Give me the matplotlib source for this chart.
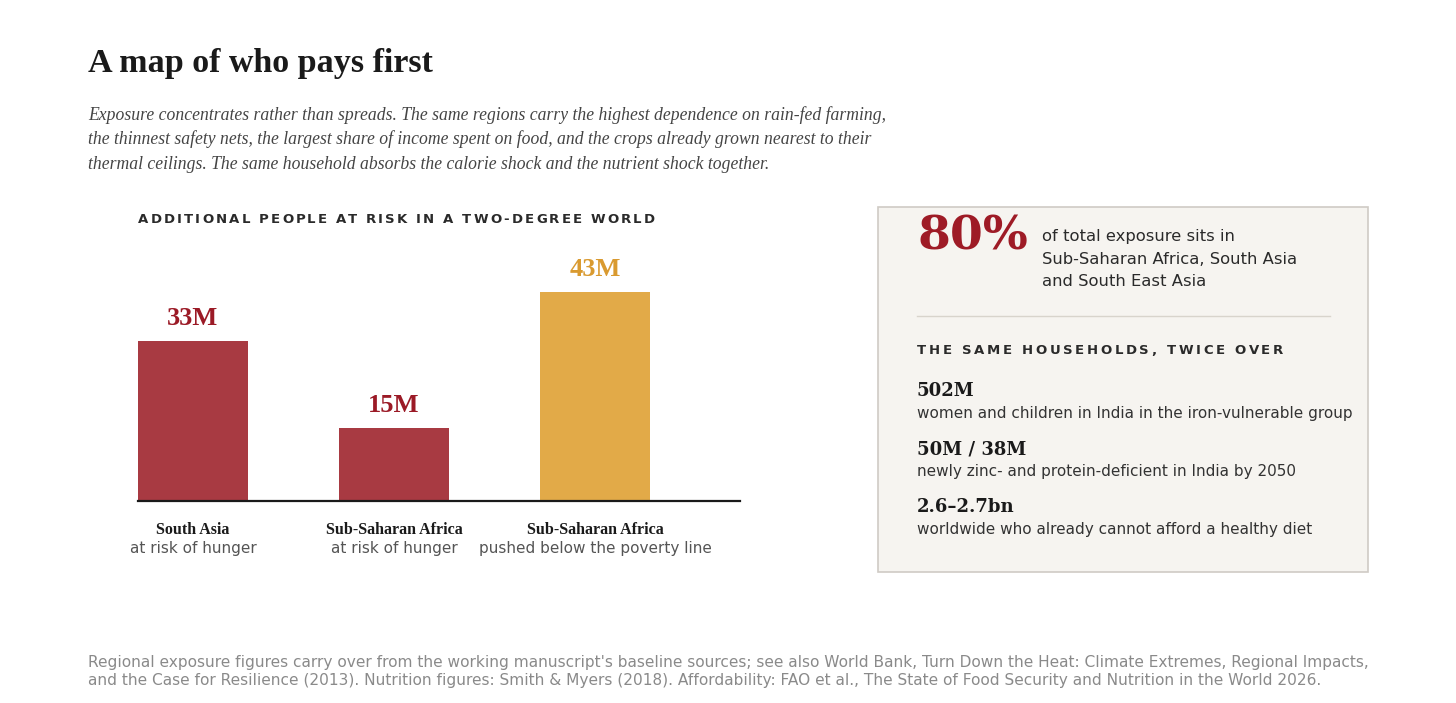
import matplotlib
matplotlib.use("Agg")
import matplotlib.pyplot as plt
from matplotlib.patches import Rectangle
from matplotlib.lines import Line2D

W, H = 1456, 703

# --- data ---
categories = ["South Asia", "Sub-Saharan Africa", "Sub-Saharan Africa"]
sublabels = ["at risk of hunger", "at risk of hunger", "pushed below the poverty line"]
values = [33, 15, 43]
value_labels = ["33M", "15M", "43M"]
bar_colors = ["#a83a42", "#a83a42", "#e2aa48"]
label_colors = ["#9b1a26", "#9b1a26", "#d99a30"]

stat_numbers = ["502M", "50M / 38M", "2.6\u20132.7bn"]
stat_texts = ["women and children in India in the iron-vulnerable group",
              "newly zinc- and protein-deficient in India by 2050",
              "worldwide who already cannot afford a healthy diet"]

SERIF = "Liberation Serif"
SERIF2 = "DejaVu Serif"
SANS = "DejaVu Sans"

fig = plt.figure(figsize=(W / 100, H / 100), dpi=100)
fig.patch.set_facecolor("white")


def fx(x):
    return x / W


def fy(y):
    return 1 - y / H


def txt(x, y, s, **kw):
    kw.setdefault("va", "baseline")
    return fig.text(fx(x), fy(y), s, **kw)


def spaced(x, y, s, width, **kw):
    # letter-spaced caps label, stretched to a target pixel width
    r = fig.canvas.get_renderer()

    def w(t):
        if not t:
            return 0.0
        tmp = fig.text(0, 0, t.replace(" ", "\u00a0"), **kw)
        e = tmp.get_window_extent(renderer=r).width
        tmp.remove()
        return e
    natural = w(s)
    sp = (width - natural) / (len(s) - 1)
    for i, ch in enumerate(s):
        if ch == " ":
            continue
        txt(x + w(s[:i]) + i * sp, y, ch, **kw)


# --- header ---
txt(88, 72, "A map of who pays first", family=SERIF, weight="bold", fontsize=24.5, color="#1a1a1a")
sub = ["Exposure concentrates rather than spreads. The same regions carry the highest dependence on rain-fed farming,",
       "the thinnest safety nets, the largest share of income spent on food, and the crops already grown nearest to their",
       "thermal ceilings. The same household absorbs the calorie shock and the nutrient shock together."]
for i, line in enumerate(sub):
    txt(88, 120 + i * 24.5, line, family=SERIF, style="italic", fontsize=12.7, color="#444444")

spaced(138, 223, "ADDITIONAL PEOPLE AT RISK IN A TWO-DEGREE WORLD", 517,
       family=SANS, weight="bold", fontsize=9.5, color="#2a2a2a")

# --- bar chart ---
step = 201.0
bw = 110 / step
x0 = -bw / 2
x1 = x0 + (740 - 138) / step
ppu = 4.86
ax_top = 240
ax = fig.add_axes([fx(138), fy(501), (740 - 138) / W, (501 - ax_top) / H])
xs = list(range(len(values)))
ax.bar(xs, values, width=bw, color=bar_colors, zorder=2)
ax.set_xlim(x0, x1)
ax.set_ylim(0, (501 - ax_top) / ppu)
for s in ["top", "right", "left"]:
    ax.spines[s].set_visible(False)
ax.spines["bottom"].set_color("#1a1a1a")
ax.spines["bottom"].set_linewidth(1.6)
ax.set_xticks([])
ax.set_yticks([])
ax.patch.set_alpha(0)
for xi, v, lab, c in zip(xs, values, value_labels, label_colors):
    ax.annotate(lab, (xi, v), xytext=(0, 16), textcoords="offset pixels",
                ha="center", va="baseline", family=SERIF, weight="bold", fontsize=19, color=c)
for xi, cat, sl in zip(xs, categories, sublabels):
    ax.annotate(cat, (xi, 0), xytext=(0, -21), textcoords="offset pixels",
                ha="center", va="top", family=SERIF, weight="bold", fontsize=11.5, color="#1a1a1a")
    ax.annotate(sl, (xi, 0), xytext=(0, -40), textcoords="offset pixels",
                ha="center", va="top", family=SANS, fontsize=11, color="#555555")

# --- side panel ---
fig.patches.append(Rectangle((fx(878), fy(572)), (1368 - 878) / W, (572 - 207) / H,
                             transform=fig.transFigure, facecolor="#f6f4f0",
                             edgecolor="#cfcbc5", linewidth=1.2))
txt(917, 250, "80%", family=SERIF2, weight="bold", fontsize=34, color="#9e1b26")
for i, line in enumerate(["of total exposure sits in", "Sub-Saharan Africa, South Asia",
                          "and South East Asia"]):
    txt(1042, 241 + i * 22.7, line, family=SANS, fontsize=11.8, color="#2a2a2a")
fig.lines.append(Line2D([fx(917), fx(1330)], [fy(316), fy(316)], transform=fig.transFigure,
                        color="#d8d4cc", linewidth=1))
spaced(917, 354, "THE SAME HOUSEHOLDS, TWICE OVER", 366,
       family=SANS, weight="bold", fontsize=9.5, color="#2a2a2a")
for i, (num, t) in enumerate(zip(stat_numbers, stat_texts)):
    by = 396 + i * 58
    txt(917, by, num, family=SERIF2, weight="bold", fontsize=13, color="#1a1a1a")
    txt(917, by + 22, t, family=SANS, fontsize=11, color="#333333")

# --- footer ---
foot = ["Regional exposure figures carry over from the working manuscript's baseline sources; see also World Bank, Turn Down the Heat: Climate Extremes, Regional Impacts,",
        "and the Case for Resilience (2013). Nutrition figures: Smith & Myers (2018). Affordability: FAO et al., The State of Food Security and Nutrition in the World 2026."]
for i, line in enumerate(foot):
    txt(88, 667 + i * 18, line, family=SANS, fontsize=11.05, color="#8a8a8a")

fig.savefig("out.png", dpi=100, facecolor="white")
